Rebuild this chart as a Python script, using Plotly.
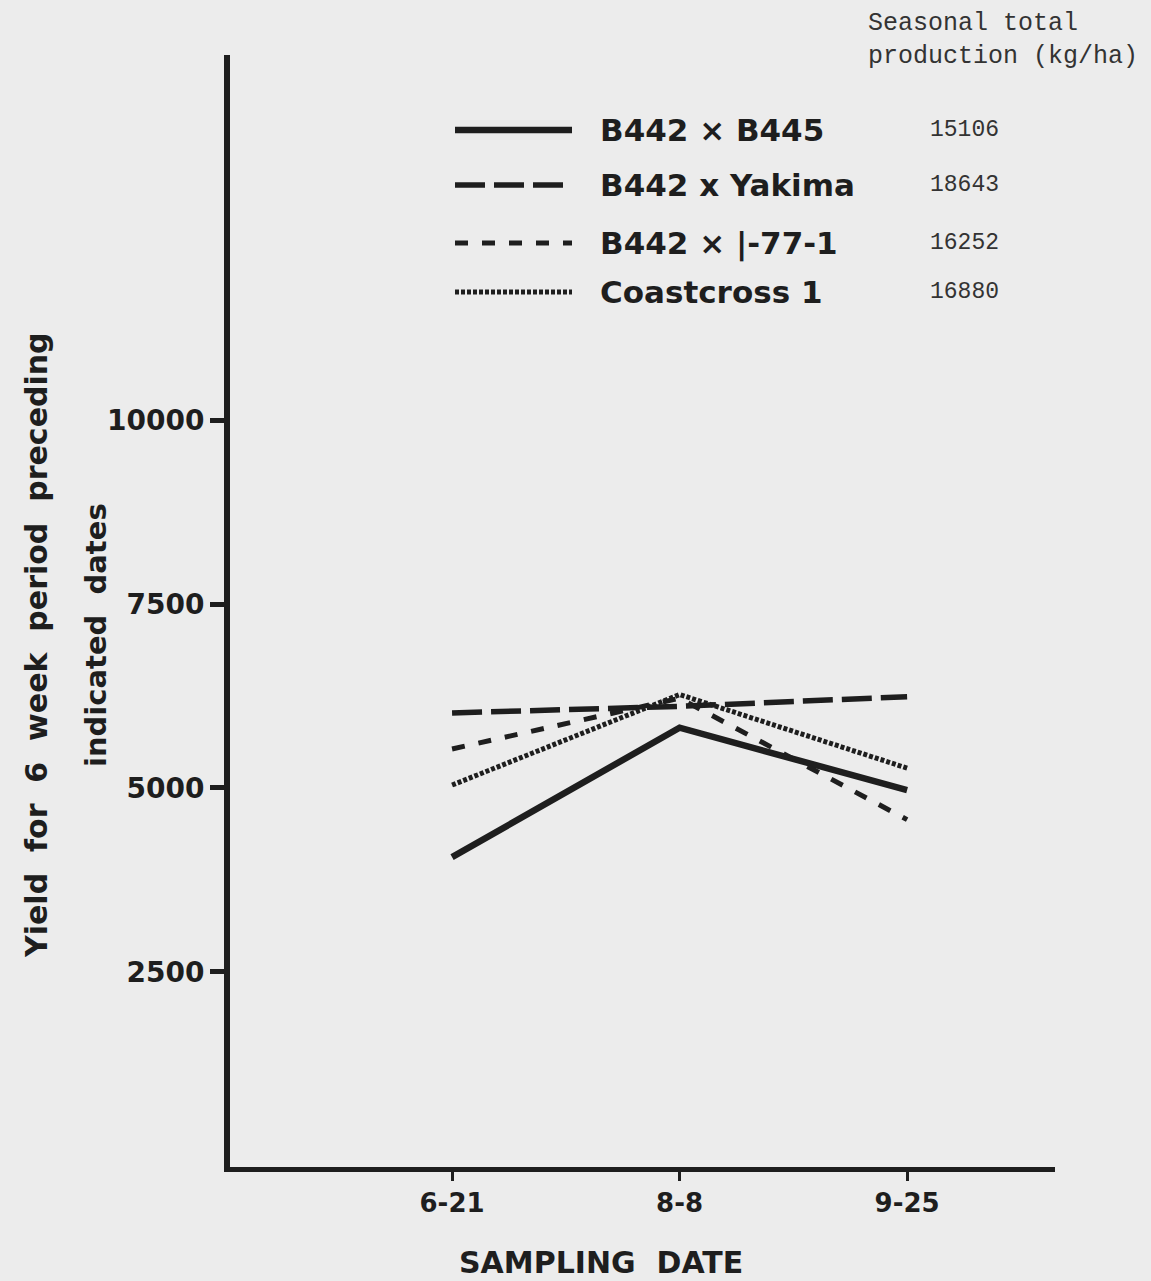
import plotly.graph_objects as go

# ---- data ----
dates = ["6-21", "8-8", "9-25"]
series_names = ["B442 x B445", "B442 x Yakima", "B442 x I-77-1", "Coastcross 1"]
legend_labels = ["B442 \u00d7 B445", "B442 x Yakima", "B442 \u00d7 |-77-1", "Coastcross 1"]
seasonal_totals = ["15106", "18643", "16252", "16880"]
y_b445 = [4060, 5820, 4970]
y_yakima = [6020, 6110, 6240]
y_i771 = [5530, 6220, 4570]
y_coast = [5040, 6270, 5270]
y_ticks = [2500, 5000, 7500, 10000]
y_ticktext = ["2500", "5000", "7500", "10000"]

series_values = [y_b445, y_yakima, y_i771, y_coast]
dashes = ["solid", "30px,9px", "13px,14px", "4px,2px"]
widths = [6.5, 5.5, 5, 5]

BG = "#ececec"
INK = "#1e1e1e"
SANS = "DejaVu Sans, Arial, sans-serif"
MONO = "Liberation Mono, Courier New, monospace"

x_idx = list(range(len(dates)))
fig = go.Figure()
for name, vals, d, w in zip(series_names, series_values, dashes, widths):
    fig.add_trace(go.Scatter(x=x_idx, y=vals, mode="lines", name=name,
                             line=dict(color=INK, width=w, dash=d),
                             showlegend=False))

W, H = 1151, 1281
ml, mr, mt, mb = 230, 96, 55, 114

def px(xp):
    return (xp - ml) / (W - ml - mr)

def py(yp):
    return 1 - (yp - mt) / (H - mt - mb)

shapes = []
annotations = []
leg_rows = [130, 185, 243, 292]
for lab, tot, d, w, yr in zip(legend_labels, seasonal_totals, dashes, widths, leg_rows):
    shapes.append(dict(type="line", xref="paper", yref="paper",
                       x0=px(455), x1=px(572), y0=py(yr), y1=py(yr),
                       line=dict(color=INK, width=w, dash=d)))
    annotations.append(dict(text=lab, xref="paper", yref="paper", x=px(598), y=py(yr),
                            xanchor="left", yanchor="middle", showarrow=False,
                            font=dict(family=SANS, size=31, color=INK, weight="bold")))
    annotations.append(dict(text=tot, xref="paper", yref="paper", x=px(928), y=py(yr),
                            xanchor="left", yanchor="middle", showarrow=False,
                            font=dict(family=MONO, size=23, color="#333")))

annotations.append(dict(text="Seasonal total<br>production (kg/ha)", xref="paper", yref="paper",
                        x=px(866), y=py(7), xanchor="left", yanchor="top", showarrow=False,
                        align="left", font=dict(family=MONO, size=25, color="#333")))
annotations.append(dict(text="Yield  for  6  week  period  preceding", xref="paper", yref="paper",
                        x=px(36), y=py(645), xanchor="center", yanchor="middle", showarrow=False,
                        textangle=-90, font=dict(family=SANS, size=30, color=INK, weight="bold")))
annotations.append(dict(text="indicated  dates", xref="paper", yref="paper",
                        x=px(96), y=py(635), xanchor="center", yanchor="middle", showarrow=False,
                        textangle=-90, font=dict(family=SANS, size=29, color=INK, weight="bold")))
annotations.append(dict(text="SAMPLING  DATE", xref="paper", yref="paper",
                        x=px(601), y=py(1262), xanchor="center", yanchor="middle", showarrow=False,
                        font=dict(family=SANS, size=30, color=INK, weight="bold")))

fig.update_layout(
    width=W, height=H,
    margin=dict(l=ml, r=mr, t=mt, b=mb),
    paper_bgcolor=BG, plot_bgcolor=BG,
    shapes=shapes, annotations=annotations,
    xaxis=dict(range=[-0.976, 2.65], tickvals=x_idx, ticktext=dates,
               showgrid=False, zeroline=False, showline=True, linecolor=INK, linewidth=5,
               ticks="outside", ticklen=9, tickwidth=3, tickcolor=INK,
               tickfont=dict(family=SANS, size=26, color=INK, weight="bold")),
    yaxis=dict(range=[-150, 14960], tickvals=y_ticks, ticktext=y_ticktext,
               showgrid=False, zeroline=False, showline=True, linecolor=INK, linewidth=6,
               ticks="outside", ticklen=14, tickwidth=5, tickcolor=INK,
               tickfont=dict(family=SANS, size=28, color=INK, weight="bold")),
)

fig.write_html("out.html")
